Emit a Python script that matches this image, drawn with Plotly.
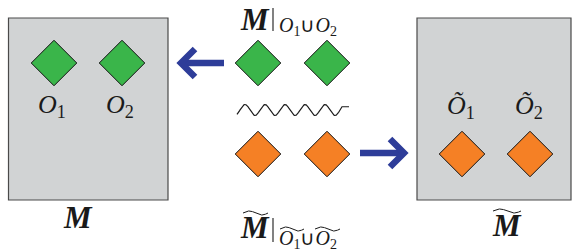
import numpy as np
import plotly.graph_objects as go

# ---- diagram content (pixel-space coordinates on a 575x252 canvas) ----
green_x = [54, 122, 258, 327]
green_y = [63, 63, 63, 63]
orange_x = [258, 327, 462, 530]
orange_y = [154, 154, 154, 154]

box_x0 = [8.5, 417]
box_x1 = [168, 571]
box_y0 = [18, 18]
box_y1 = [200, 200]

label_text = ["<i>O</i><sub>1</sub>", "<i>O</i><sub>2</sub>", "<i>Õ</i><sub>1</sub>", "<i>Õ</i><sub>2</sub>"]
label_x = [52, 120, 461, 529]
label_y = [106, 106, 107, 107]

big_text = ["<b><i>M</i></b>", "<b><i>M</i></b>", "<b><i>M</i></b>", "<b><i>M</i></b>"]
big_x = [78, 507, 255, 255]
big_y = [217, 225, 19, 227]

sub_text = ["<i>O</i><sub>1</sub>∪<i>O</i><sub>2</sub>", "<i>O</i><sub>1</sub>∪<i>O</i><sub>2</sub>"]
sub_x = [277, 277]
sub_y = [26, 239]

bar_x = [273, 273]
bar_y0 = [8, 218]
bar_y1 = [31, 242]

# widetilde accents: (x start, x end, y centre)
tilde_x0 = [493, 243, 280, 315]
tilde_x1 = [521, 268, 304, 340]
tilde_y = [211, 213, 229, 229]

BLUE = "#2e3d99"
GREEN = "#3ab54a"
ORANGE = "#f58025"
GRAY = "#d1d3d4"
INK = "#1a1a1a"
FONT = "Liberation Serif"

fig = go.Figure()

shapes = []
for x0, x1, y0, y1 in zip(box_x0, box_x1, box_y0, box_y1):
    shapes.append(dict(type="rect", x0=x0, x1=x1, y0=y0, y1=y1, xref="x", yref="y",
                       fillcolor=GRAY, line=dict(color="#4a4a4a", width=1.2), layer="below"))
for x, y0, y1 in zip(bar_x, bar_y0, bar_y1):
    shapes.append(dict(type="line", x0=x, x1=x, y0=y0, y1=y1, xref="x", yref="y",
                       line=dict(color=INK, width=1.1)))

# arrows
arrow_left_x = [224, 182, None, 195, 181, 195]
arrow_left_y = [63, 63, None, 49, 63, 77]
arrow_right_x = [360, 402, None, 390, 404, 390]
arrow_right_y = [153, 153, None, 139, 153, 167]
for ax, ay in [(arrow_left_x, arrow_left_y), (arrow_right_x, arrow_right_y)]:
    fig.add_trace(go.Scatter(x=ax, y=ay, mode="lines",
                             line=dict(color=BLUE, width=6.5), hoverinfo="skip"))

# wavy line
wx = np.linspace(237, 342, 400)
wy = 110 - 5.5 * np.sin(2 * np.pi * (wx - 240) / 20)
wx = np.append(wx, 349)
wy = np.append(wy, wy[-1])
fig.add_trace(go.Scatter(x=wx, y=wy, mode="lines", line=dict(color=INK, width=1.2),
                         hoverinfo="skip"))

# tildes
for x0, x1, yc in zip(tilde_x0, tilde_x1, tilde_y):
    tx = np.linspace(x0, x1, 60)
    t = (tx - x0) / (x1 - x0)
    ty = yc - 2.0 * np.sin(2 * np.pi * t)
    fig.add_trace(go.Scatter(x=tx, y=ty, mode="lines", line=dict(color=INK, width=1.0),
                             hoverinfo="skip"))

# diamonds
fig.add_trace(go.Scatter(x=green_x, y=green_y, mode="markers",
                         marker=dict(symbol="diamond", size=35, color=GREEN,
                                     line=dict(color="#111", width=1))))
fig.add_trace(go.Scatter(x=orange_x, y=orange_y, mode="markers",
                         marker=dict(symbol="diamond", size=35, color=ORANGE,
                                     line=dict(color="#111", width=1))))

annotations = []
for t, x, y in zip(label_text, label_x, label_y):
    annotations.append(dict(text=t, x=x, y=y, xref="x", yref="y", showarrow=False,
                            xanchor="center", yanchor="middle",
                            font=dict(family=FONT, size=26, color=INK)))
for t, x, y in zip(big_text, big_x, big_y):
    annotations.append(dict(text=t, x=x, y=y, xref="x", yref="y", showarrow=False,
                            xanchor="center", yanchor="middle",
                            font=dict(family=FONT, size=31, color=INK)))
for t, x, y in zip(sub_text, sub_x, sub_y):
    annotations.append(dict(text=t, x=x, y=y, xref="x", yref="y", showarrow=False,
                            xanchor="left", yanchor="middle",
                            font=dict(family=FONT, size=20, color=INK)))

fig.update_layout(
    width=575, height=252,
    margin=dict(l=0, r=0, t=0, b=0),
    paper_bgcolor="white", plot_bgcolor="white",
    showlegend=False,
    xaxis=dict(range=[0, 575], visible=False, fixedrange=True),
    yaxis=dict(range=[252, 0], visible=False, fixedrange=True),
    shapes=shapes, annotations=annotations,
)

fig.write_html("out.html", config={"displayModeBar": False},
               post_script="document.body.style.margin='0';document.body.style.overflow='hidden';")
